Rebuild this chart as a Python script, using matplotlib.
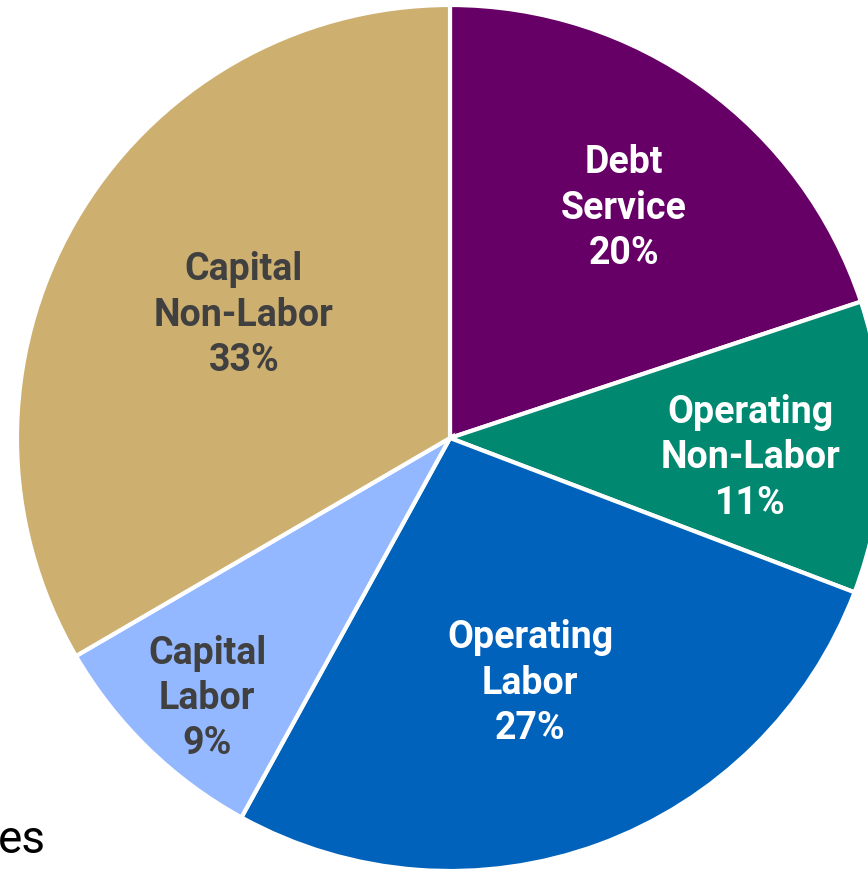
import matplotlib
matplotlib.use("Agg")
import matplotlib.pyplot as plt
import numpy as np

categories = ["Debt\nService", "Operating\nNon-Labor", "Operating\nLabor", "Capital\nLabor", "Capital\nNon-Labor"]
values = [19.9, 10.9, 27.2, 8.6, 33.4]
shown_pct = [20, 11, 27, 9, 33]
colors = ["#660066", "#008870", "#0062BB", "#94B8FF", "#CDAF70"]
text_colors = ["white", "white", "white", "#404040", "#404040"]
# label anchor positions, in units of the pie radius
label_pos = [(0.402, 0.531), (0.693, -0.046), (0.185, -0.566), (-0.561, -0.601), (-0.476, 0.284)]

plt.rcParams['font.family'] = ['Roboto', 'DejaVu Sans']

W, H = 868, 869
fig = plt.figure(figsize=(W / 100, H / 100), dpi=100)
ax = fig.add_axes([0, 0, 1, 1])

cx, cy, R = 450, 438, 433
wedges, _ = ax.pie(values, colors=colors, startangle=90, counterclock=False,
                   radius=1, center=(0, 0),
                   wedgeprops=dict(edgecolor="white", linewidth=3))

for cat, p, tc, (x, y) in zip(categories, shown_pct, text_colors, label_pos):
    ax.text(x, y, f"{cat}\n{p}%", ha="center", va="center", color=tc,
            fontsize=27, fontweight="bold", linespacing=1.28)

ax.set_xlim(-cx / R, (W - cx) / R)
ax.set_ylim((cy - H) / R, cy / R)
ax.set_aspect("auto")
ax.axis("off")

fig.text(-0.002, 1 - 840 / H, "es", fontsize=33, ha="left", va="center", color="black")

fig.savefig("out.png", dpi=100)
